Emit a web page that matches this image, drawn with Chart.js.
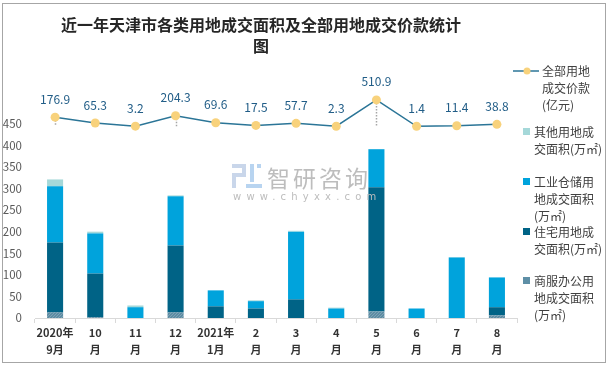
<!DOCTYPE html>
<html>
<head>
<meta charset="utf-8">
<script src="https://cdn.jsdelivr.net/npm/chart.js@4/dist/chart.umd.min.js"></script>
<style>
  body { margin: 0; background: #fff; }
  #wrap { position: relative; width: 611px; height: 368px; font-family: "Noto Sans CJK SC", sans-serif; }
  #frame { position: absolute; left: 2px; top: 3px; width: 604px; height: 360px; border: 1px solid #a6a6a6; box-sizing: border-box; pointer-events: none; }
  #title { position: absolute; left: 0; top: 14px; width: 522px; text-align: center; font-size: 16px; line-height: 21px; font-weight: bold; color: #262626; }
  .lg { position: absolute; font-size: 12px; line-height: 17px; color: #404040; white-space: nowrap; }
  .sq { position: absolute; width: 7px; height: 7px; }
  #wm { position: absolute; left: 232px; top: 163px; color: #bdbdbd; }
  #wm .cn { position: absolute; left: 35px; top: -3px; font-size: 23px; letter-spacing: 3px; white-space: nowrap; }
  #wm .en { position: absolute; left: 1px; top: 28px; font-size: 10px; letter-spacing: 5.2px; white-space: nowrap; font-family: "DejaVu Sans", sans-serif; }
</style>
</head>
<body>
<div id="wrap">
  <canvas id="chart" width="611" height="368"></canvas>
  <div id="title">近一年天津市各类用地成交面积及全部用地成交价款统计<br>图</div>

  <div id="wm">
    <svg width="30" height="26" style="position:absolute;left:0;top:0">
      <rect x="0" y="1" width="14" height="4" fill="#c9d6ea"/>
      <rect x="10" y="1" width="4" height="12" fill="#c9d6ea"/>
      <rect x="0" y="10" width="14" height="4" fill="#c9d6ea"/>
      <rect x="0" y="10" width="4" height="15" fill="#c9d6ea"/>
      <rect x="18" y="1" width="4" height="18" fill="#b8d4f0"/>
      <rect x="14" y="21" width="16" height="4" fill="#b8d4f0"/>
      <rect x="25" y="1" width="4" height="4" fill="#b8d4f0"/>
    </svg>
    <div class="cn">智研咨询</div>
    <div class="en">www.chyxx.com</div>
  </div>

  <svg style="position:absolute;left:512px;top:66px" width="28" height="10">
    <line x1="1" y1="5" x2="27" y2="5" stroke="#2b7597" stroke-width="1.5"/>
    <circle cx="15" cy="5" r="3.5" fill="#f8d27c"/>
  </svg>
  <div class="lg" style="left:542px;top:62px">全部用地<br>成交价款<br>(亿元)</div>

  <div class="sq" style="left:523px;top:128px;background:#a5d8d9"></div>
  <div class="lg" style="left:534px;top:123px">其他用地成<br>交面积(万㎡)</div>

  <div class="sq" style="left:523px;top:178px;background:#00a3dc"></div>
  <div class="lg" style="left:534px;top:173px">工业仓储用<br>地成交面积<br>(万㎡)</div>

  <div class="sq" style="left:523px;top:228px;background:#006386"></div>
  <div class="lg" style="left:534px;top:223px">住宅用地成<br>交面积(万㎡)</div>

  <div class="sq" style="left:523px;top:277px;background:#5e8fa6"></div>
  <div class="lg" style="left:534px;top:272px">商服办公用<br>地成交面积<br>(万㎡)</div>

  <div id="frame"></div>
</div>

<script>
var months = [['2020年', '9月'], ['10', '月'], ['11', '月'], ['12', '月'], ['2021年', '1月'], ['2', '月'],
              ['3', '月'], ['4', '月'], ['5', '月'], ['6', '月'], ['7', '月'], ['8', '月']];

// 万㎡
var shangfu = [13, 2, 0, 13, 0, 0, 0, 0, 15, 0, 0, 6];
var zhuzhai = [162, 101, 0, 155, 27, 22, 43, 0, 288, 0, 0, 19];
var gongye = [130, 93, 25, 114, 37, 17, 157, 22, 88, 22, 140, 69];
var qita = [16, 4, 4, 2, 0, 2, 2, 2, 0.5, 0, 1, 0];

// 亿元
var jiakuan = [176.9, 65.3, 3.2, 204.3, 69.6, 17.5, 57.7, 2.3, 510.9, 1.4, 11.4, 38.8];

var yTicksShown = 450;

function dotPattern() {
    var c = document.createElement('canvas');
    c.width = 3;
    c.height = 3;
    var g = c.getContext('2d');
    g.fillStyle = '#5d8ca3';
    g.fillRect(0, 0, 3, 3);
    g.fillStyle = '#7fa3b5';
    g.fillRect(0, 0, 1, 1);
    g.fillRect(2, 1, 1, 1);
    g.fillRect(1, 2, 1, 1);
    return g.createPattern(c, 'repeat');
}

var lineLabels = {
    id: 'lineLabels',
    beforeDatasetsDraw: function (chart) {
        var ctx = chart.ctx;
        var meta = chart.getDatasetMeta(4);
        var zeroY = chart.scales.y2.getPixelForValue(0);
        ctx.save();
        ctx.strokeStyle = '#a6a6a6';
        ctx.lineWidth = 1.5;
        ctx.setLineDash([1.5, 1.5]);
        meta.data.forEach(function (pt) {
            if (zeroY - pt.y > 4) {
                ctx.beginPath();
                ctx.moveTo(Math.round(pt.x) + 0.5, pt.y);
                ctx.lineTo(Math.round(pt.x) + 0.5, zeroY);
                ctx.stroke();
            }
        });
        ctx.restore();
    },
    afterDatasetsDraw: function (chart) {
        var ctx = chart.ctx;
        var meta = chart.getDatasetMeta(4);
        ctx.save();
        ctx.font = '12px "Noto Sans CJK SC", sans-serif';
        ctx.fillStyle = '#215d87';
        ctx.textAlign = 'center';
        ctx.textBaseline = 'middle';
        meta.data.forEach(function (pt, i) {
            ctx.fillText(jiakuan[i].toFixed(1), pt.x, pt.y - 18);
        });
        ctx.restore();
    }
};

var barStyle = { barPercentage: 0.8, categoryPercentage: 0.5, yAxisID: 'y', order: 1, borderWidth: 0 };

new Chart(document.getElementById('chart'), {
    type: 'bar',
    data: {
        labels: months,
        datasets: [
            Object.assign({ label: '商服办公用地成交面积(万㎡)', data: shangfu, backgroundColor: dotPattern() }, barStyle),
            Object.assign({ label: '住宅用地成交面积(万㎡)', data: zhuzhai, backgroundColor: '#006386' }, barStyle),
            Object.assign({ label: '工业仓储用地成交面积(万㎡)', data: gongye, backgroundColor: '#00a3dc' }, barStyle),
            Object.assign({ label: '其他用地成交面积(万㎡)', data: qita, backgroundColor: '#a5d8d9' }, barStyle),
            {
                type: 'line',
                label: '全部用地成交价款(亿元)',
                data: jiakuan,
                yAxisID: 'y2',
                order: 0,
                borderColor: '#2b7597',
                borderWidth: 1.5,
                pointRadius: 4.5,
                pointBackgroundColor: '#f8d27c',
                pointBorderColor: '#f8d27c',
                pointBorderWidth: 0,
                tension: 0
            }
        ]
    },
    options: {
        responsive: false,
        animation: false,
        layout: { padding: { left: 0, right: 94, top: 59, bottom: 0 } },
        plugins: {
            legend: { display: false },
            title: { display: false },
            tooltip: { enabled: false }
        },
        scales: {
            x: {
                stacked: true,
                afterFit: function (s) { s.height = 50; },
                grid: { display: true, drawOnChartArea: false, drawTicks: true, tickLength: 5, color: '#d9d9d9', offset: true },
                border: { display: true, color: '#d9d9d9' },
                ticks: {
                    padding: 2,
                    color: '#333333',
                    maxRotation: 0,
                    autoSkip: false,
                    font: { family: '"Noto Sans CJK SC", sans-serif', size: 11, weight: 'bold', lineHeight: 1.5 }
                }
            },
            y: {
                stacked: true,
                min: 0,
                max: 600,
                afterFit: function (s) { s.width = 35; },
                grid: { display: false, drawTicks: false },
                border: { display: false },
                ticks: {
                    stepSize: 50,
                    padding: 13,
                    color: '#595959',
                    font: { family: '"Noto Sans CJK SC", sans-serif', size: 11.5 },
                    callback: function (v) { return v <= yTicksShown ? v : ''; }
                }
            },
            y2: {
                display: false,
                min: -3700,
                max: 1300
            }
        }
    },
    plugins: [lineLabels]
});
</script>
</body>
</html>
